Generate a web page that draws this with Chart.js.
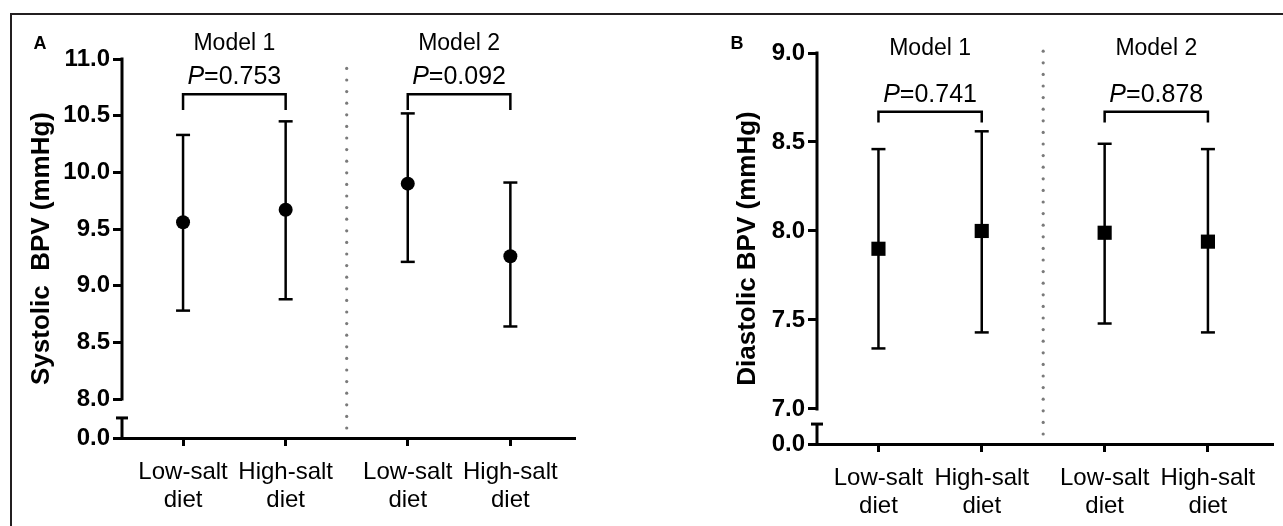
<!DOCTYPE html>
<html>
<head>
<meta charset="utf-8">
<title>Systolic and diastolic BPV by salt diet</title>
<script src="https://cdn.jsdelivr.net/npm/chart.js@4.4.1/dist/chart.umd.min.js"></script>
<style>
    html, body { margin: 0; padding: 0; background: #fff; }
    body { width: 1283px; height: 526px; position: relative; overflow: hidden; }
    .frame { position: absolute; left: 10px; top: 13px; width: 1300px; height: 600px; border: 2px solid #231f20; }
    .panel { position: absolute; top: 0; height: 526px; }
    #panel-a { left: 0; width: 600px; }
    #panel-b { left: 700px; width: 583px; }
</style>
</head>
<body>
<div class="frame"></div>
<div class="panel" id="panel-a"><canvas id="chart-a"></canvas></div>
<div class="panel" id="panel-b"><canvas id="chart-b"></canvas></div>
<script>
// Chart data
const categories = ['Low-salt diet', 'High-salt diet', 'Low-salt diet', 'High-salt diet'];
const models = ['Model 1', 'Model 2'];

const sysMean = [9.56, 9.67, 9.90, 9.26];
const sysUpper = [10.33, 10.45, 10.52, 9.91];
const sysLower = [8.78, 8.88, 9.21, 8.64];
const sysP = ['0.753', '0.092'];
const sysTicks = [8.0, 8.5, 9.0, 9.5, 10.0, 10.5, 11.0];

const diaMean = [7.90, 8.00, 7.99, 7.94];
const diaUpper = [8.46, 8.56, 8.49, 8.46];
const diaLower = [7.34, 7.43, 7.48, 7.43];
const diaP = ['0.741', '0.878'];
const diaTicks = [7.0, 7.5, 8.0, 8.5, 9.0];

const FONT = '"Liberation Sans", Arial, sans-serif';
const GROUP_GAP = 0.19;   // extra space between Model 1 and Model 2
const X_MIN = -0.595;
const X_MAX = 3.82;

// category index -> position on the x scale
function xPos(i) {
    return i + (i >= 2 ? GROUP_GAP : 0);
}

function splitLabel(label) {
    const cut = label.lastIndexOf(' ');
    return [label.slice(0, cut), label.slice(cut + 1)];
}

function line(ctx, x1, y1, x2, y2) {
    ctx.beginPath();
    ctx.moveTo(x1, y1);
    ctx.lineTo(x2, y2);
    ctx.stroke();
}

// Broken axis, separator, error bars, brackets and titles
function makeOverlay(cfg) {
    return {
        id: 'overlay',
        beforeDatasetsDraw(chart) {
            const { ctx, chartArea, scales: { x, y } } = chart;
            const ax = chartArea.left;
            ctx.save();
            ctx.strokeStyle = '#000';
            ctx.lineCap = 'butt';

            // y axis with break
            ctx.lineWidth = 3;
            line(ctx, ax, y.getPixelForValue(y.max) - 1.5, ax, y.getPixelForValue(cfg.ticks[0]) + 1.5);
            const capY = y.getPixelForValue(cfg.breakCap);
            line(ctx, ax, capY, ax, y.getPixelForValue(y.min));
            line(ctx, ax - 6, capY, ax + 6, capY);

            // dotted separator between models
            const sepX = x.getPixelForValue((xPos(1) + xPos(2)) / 2);
            ctx.fillStyle = '#7a7a7a';
            for (let yy = chartArea.bottom - 10; yy >= chartArea.top - 2; yy -= 11.6) {
                ctx.beginPath();
                ctx.arc(sepX, yy, 1.6, 0, Math.PI * 2);
                ctx.fill();
            }

            // error bars
            ctx.lineWidth = 2.5;
            cfg.mean.forEach((m, i) => {
                const px = x.getPixelForValue(xPos(i));
                const top = y.getPixelForValue(cfg.upper[i]);
                const bot = y.getPixelForValue(cfg.lower[i]);
                line(ctx, px, top, px, bot);
                line(ctx, px - 7, top, px + 7, top);
                line(ctx, px - 7, bot, px + 7, bot);
            });

            // brackets, P values and model titles
            ctx.fillStyle = '#000';
            ctx.textBaseline = 'middle';
            models.forEach((model, g) => {
                const xl = x.getPixelForValue(xPos(g * 2));
                const xr = x.getPixelForValue(xPos(g * 2 + 1));
                const by = y.getPixelForValue(cfg.bracketY);
                const legY = y.getPixelForValue(cfg.bracketLeg);
                ctx.beginPath();
                ctx.moveTo(xl, legY);
                ctx.lineTo(xl, by);
                ctx.lineTo(xr, by);
                ctx.lineTo(xr, legY);
                ctx.stroke();

                const cx = (xl + xr) / 2;
                ctx.font = `italic 25px ${FONT}`;
                const wP = ctx.measureText('P').width;
                const rest = '=' + cfg.pValues[g];
                ctx.font = `25px ${FONT}`;
                const wRest = ctx.measureText(rest).width;
                const start = cx - (wP + wRest) / 2;
                ctx.textAlign = 'left';
                ctx.font = `italic 25px ${FONT}`;
                ctx.fillText('P', start, cfg.pY);
                ctx.font = `25px ${FONT}`;
                ctx.fillText(rest, start + wP, cfg.pY);

                ctx.textAlign = 'center';
                ctx.font = `23px ${FONT}`;
                ctx.fillText(model, cx, cfg.modelY);
            });

            // panel letter
            ctx.textAlign = 'center';
            ctx.font = `bold 18px ${FONT}`;
            ctx.fillText(cfg.letter, cfg.letterX, cfg.letterY);
            ctx.restore();
        }
    };
}

function buildChart(cfg) {
    const ctx = document.getElementById(cfg.canvas).getContext('2d');
    const points = cfg.mean.map((m, i) => ({ x: xPos(i), y: m }));

    return new Chart(ctx, {
        type: 'scatter',
        data: {
            datasets: [{
                data: points,
                pointStyle: cfg.pointStyle,
                pointRadius: cfg.pointRadius,
                pointBackgroundColor: '#000',
                pointBorderColor: '#000',
                pointBorderWidth: 0,
                showLine: false
            }]
        },
        options: {
            responsive: true,
            maintainAspectRatio: false,
            animation: false,
            devicePixelRatio: 1,
            layout: { padding: cfg.padding },
            plugins: {
                legend: { display: false },
                tooltip: { enabled: false }
            },
            scales: {
                x: {
                    type: 'linear',
                    min: X_MIN,
                    max: X_MAX,
                    afterFit: (scale) => { scale.height = cfg.xHeight; },
                    afterBuildTicks: (scale) => {
                        scale.ticks = categories.map((c, i) => ({ value: xPos(i) }));
                    },
                    grid: {
                        display: true,
                        drawOnChartArea: false,
                        drawTicks: true,
                        tickLength: 8,
                        tickWidth: 3,
                        tickColor: '#000'
                    },
                    border: { display: true, color: '#000', width: 3 },
                    ticks: {
                        autoSkip: false,
                        maxRotation: 0,
                        minRotation: 0,
                        padding: 12,
                        color: '#000',
                        font: { family: FONT, size: 24, lineHeight: 1.17 },
                        callback: (value, index) => splitLabel(categories[index])
                    }
                },
                y: {
                    type: 'linear',
                    min: cfg.yMin,
                    max: cfg.ticks[cfg.ticks.length - 1],
                    afterFit: (scale) => { scale.width = cfg.yWidth; },
                    afterBuildTicks: (scale) => {
                        scale.ticks = [cfg.yMin, ...cfg.ticks].map(v => ({ value: v }));
                    },
                    grid: {
                        display: true,
                        drawOnChartArea: false,
                        drawTicks: true,
                        tickLength: 9,
                        tickWidth: 3,
                        tickColor: '#000'
                    },
                    border: { display: false },
                    ticks: {
                        padding: 3,
                        color: '#000',
                        font: { family: FONT, size: 24, weight: 'bold' },
                        callback: (value) => value === cfg.yMin ? '0.0' : value.toFixed(1)
                    },
                    title: {
                        display: true,
                        text: cfg.yTitle,
                        color: '#000',
                        padding: { top: cfg.titlePad, bottom: 0 },
                        font: { family: FONT, size: 26, weight: 'bold' }
                    }
                }
            }
        },
        plugins: [makeOverlay(cfg)]
    });
}

document.addEventListener('DOMContentLoaded', () => {
    buildChart({
        canvas: 'chart-a',
        letter: 'A', letterX: 40, letterY: 44,
        yTitle: 'Systolic  BPV (mmHg)', titlePad: 26,
        mean: sysMean, upper: sysUpper, lower: sysLower, pValues: sysP, ticks: sysTicks,
        yMin: 7.656, breakCap: 7.833,
        bracketY: 10.69, bracketLeg: 10.55,
        pointStyle: 'circle', pointRadius: 7,
        padding: { left: 0, top: 59, right: 25, bottom: 0 },
        yWidth: 122, xHeight: 88,
        modelY: 43.5, pY: 77
    });

    buildChart({
        canvas: 'chart-b',
        letter: 'B', letterX: 37, letterY: 44,
        yTitle: 'Diastolic BPV (mmHg)', titlePad: 32,
        mean: diaMean, upper: diaUpper, lower: diaLower, pValues: diaP, ticks: diaTicks,
        yMin: 6.803, breakCap: 6.915,
        bracketY: 8.67, bracketLeg: 8.61,
        pointStyle: 'rect', pointRadius: 10,
        padding: { left: 0, top: 53, right: 6, bottom: 0 },
        yWidth: 117, xHeight: 82,
        modelY: 49, pY: 95
    });
});
</script>
</body>
</html>
